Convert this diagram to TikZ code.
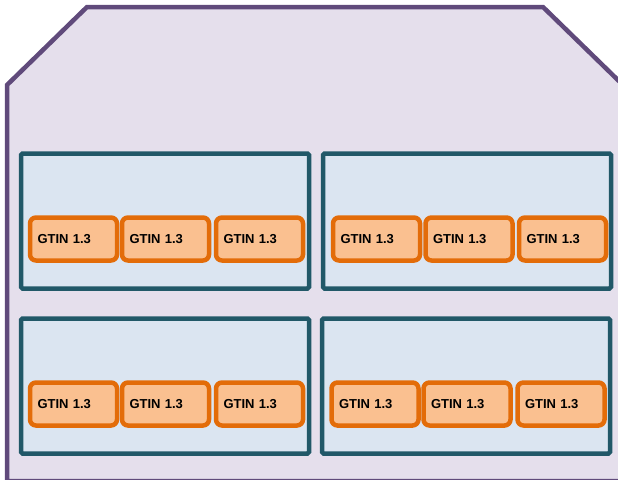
\documentclass[tikz,border=0pt]{standalone}
\usepackage{fontspec}
\setmainfont{Liberation Sans}
\definecolor{outerfill}{HTML}{E5DFEC}
\definecolor{outerline}{HTML}{604A7B}
\definecolor{tealfill}{HTML}{DBE5F1}
\definecolor{tealline}{HTML}{215868}
\definecolor{orfill}{HTML}{FAC090}
\definecolor{orline}{HTML}{E36C09}
\tikzset{
  groupbox/.style={draw=tealline, fill=tealfill, line width=4.5pt, rounded corners=1.5pt, minimum width=288pt, minimum height=135pt, inner sep=0pt},
  gtin/.style={draw=orline, fill=orfill, line width=4.5pt, rounded corners=6pt, minimum height=43pt, text width=72pt, inner xsep=7.5pt, inner ysep=0pt, align=left, font=\fontsize{13}{15}\selectfont\bfseries},
}
\begin{document}
\begin{tikzpicture}[x=1pt,y=-1pt]
\useasboundingbox (0,0) rectangle (618,479);
\begin{scope}
\clip (0,0) rectangle (618,479);
\draw[outerline, fill=outerfill, line width=4.5pt, line join=miter]
  (7,481) -- (7,85) -- (87,7) -- (543,7) -- (622,84) -- (622,481) -- cycle;
\end{scope}
\node[groupbox] (g1) at (165,221) {};
\node[groupbox] (g2) at (467,221) {};
\node[groupbox] (g3) at (165,386) {};
\node[groupbox] (g4) at (466,386) {};
\node[gtin] (a1) at (73.5,239) {GTIN 1.3};
\node[gtin] (a2) at (165.5,239) {GTIN 1.3};
\node[gtin] (a3) at (259.5,239) {GTIN 1.3};
\node[gtin] (b1) at (376.5,239) {GTIN 1.3};
\node[gtin] (b2) at (469,239) {GTIN 1.3};
\node[gtin] (b3) at (562.5,239) {GTIN 1.3};
\node[gtin] (c1) at (73.5,404) {GTIN 1.3};
\node[gtin] (c2) at (165.5,404) {GTIN 1.3};
\node[gtin] (c3) at (259.5,404) {GTIN 1.3};
\node[gtin] (d1) at (375,404) {GTIN 1.3};
\node[gtin] (d2) at (467,404) {GTIN 1.3};
\node[gtin] (d3) at (561,404) {GTIN 1.3};
\end{tikzpicture}
\end{document}
